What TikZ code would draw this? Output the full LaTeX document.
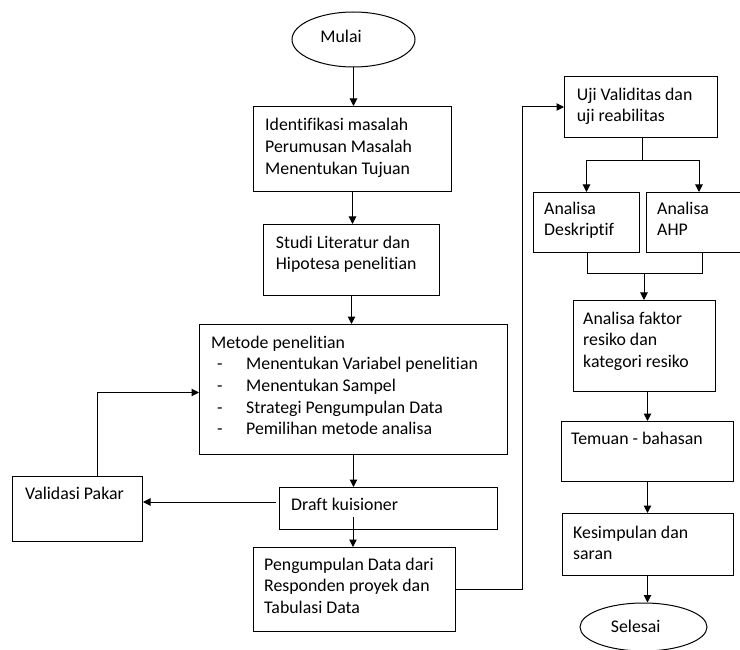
\documentclass[tikz,border=0pt]{standalone}
\usepackage{fontspec}
\setmainfont{Carlito}[RawFeature=-liga]
\usetikzlibrary{arrows.meta,shapes.geometric}
\begin{document}
\begin{tikzpicture}[x=1pt,y=-1pt,
  box/.style={draw, line width=1pt, inner sep=0pt, anchor=north west},
  oval/.style={draw, line width=1pt, ellipse, inner sep=0pt},
  txt/.style={inner sep=0pt, anchor=north west, align=left, font=\fontsize{17.8}{21.7}\selectfont},
  arr/.style={line width=1pt, -{Triangle[length=7.5pt,width=7.5pt]}},
  ln/.style={line width=1pt}]
\useasboundingbox (0,0) rectangle (740,650);
% shapes
\node[oval, minimum width=123pt, minimum height=55pt] (mulai) at (353.5,39.5) {};
\node[box, minimum width=198pt, minimum height=85pt] (b1) at (253,106) {};
\node[box, minimum width=176pt, minimum height=71pt] (b2) at (263,224) {};
\node[box, minimum width=308pt, minimum height=130pt] (metode) at (199,324) {};
\node[box, minimum width=130pt, minimum height=65pt] (valid) at (12,476) {};
\node[box, minimum width=218pt, minimum height=42pt] (draft) at (279,487) {};
\node[box, minimum width=202pt, minimum height=84pt] (peng) at (253,547) {};
\node[box, minimum width=153pt, minimum height=61pt] (uji) at (564,76) {};
\node[box, minimum width=106pt, minimum height=60pt] (desk) at (533,192) {};
\node[box, minimum width=100pt, minimum height=60pt] (ahp) at (646,192) {};
\node[box, minimum width=142pt, minimum height=91pt] (faktor) at (573,300) {};
\node[box, minimum width=172pt, minimum height=60pt] (temuan) at (561,421) {};
\node[box, minimum width=171pt, minimum height=62pt] (kesim) at (562,513) {};
\node[oval, minimum width=127pt, minimum height=48pt] (selesai) at (643.5,627) {};
% texts
\node[txt, anchor=base] (tmulai) at (341,42.7) {Mulai};
\node[txt] (tb1) at (265,115.5) {\strut Identifikasi masalah\\Perumusan Masalah\\Menentukan Tujuan};
\node[txt] (tb2) at (275.7,232.8) {\strut Studi Literatur dan\\Hipotesa penelitian};
\node[txt] (tmetode) at (211,332.8) {\strut Metode penelitian\\
\hspace*{6pt}\makebox[29pt][l]{-}Menentukan Variabel penelitian\\
\hspace*{6pt}\makebox[29pt][l]{-}Menentukan Sampel\\
\hspace*{6pt}\makebox[29pt][l]{-}Strategi Pengumpulan Data\\
\hspace*{6pt}\makebox[29pt][l]{-}Pemilihan metode analisa};
\node[txt] (tvalid) at (25,484.1) {\strut Validasi Pakar};
\node[txt] (tdraft) at (291,494.8) {\strut Draft kuisioner};
\node[txt] (tpeng) at (264,554.8) {\strut Pengumpulan Data dari\\Responden proyek dan\\Tabulasi Data};
\node[txt] (tuji) at (576.7,84.8) {\strut Uji Validitas dan\\uji reabilitas};
\node[txt] (tdesk) at (544,198.8) {\strut Analisa\\Deskriptif};
\node[txt] (tahp) at (657,198.8) {\strut Analisa\\AHP};
\node[txt] (tfaktor) at (583,308.8) {\strut Analisa faktor\\resiko dan\\kategori resiko};
\node[txt] (ttemuan) at (571,428.8) {\strut Temuan - bahasan};
\node[txt] (tkesim) at (573,522.8) {\strut Kesimpulan dan\\saran};
\node[txt, anchor=base] (tselesai) at (635.7,632) {Selesai};
% connectors
\draw[arr] (mulai.south) -- (mulai.south |- b1.north);
\draw[arr] (b1.south) -- (b1.south |- b2.north);
\draw[arr] (b2.south) -- (b2.south |- metode.north);
\draw[arr] (metode.south) -- (metode.south |- draft.north);
\coordinate (d1) at (276,502);
\draw[arr] (d1) -- (d1 -| valid.east);
\draw[arr] ([xshift=20pt]valid.north) |- ([yshift=-3pt]metode.west);
\coordinate (d2) at (353,517);
\draw[arr] (d2) -- (d2 |- peng.north);
\draw[arr] (peng.east) -- ++(66,0) |- (uji.west);
\coordinate (s1) at (642,161);
\draw[ln] (s1 |- uji.south) -- (s1);
\draw[arr] (s1) -| (desk.north);
\draw[arr] (s1) -| (699,0 |- ahp.north);
\coordinate (m1) at (644,274);
\draw[ln] (587,0 |- desk.south) |- (702,274) -- (702,0 |- ahp.south);
\draw[arr] (m1) -- (m1 |- faktor.north);
\draw[arr] (temuan.north |- faktor.south) -- (temuan.north);
\draw[arr] (temuan.south) -- (kesim.north -| temuan.south);
\draw[arr] (temuan.south |- kesim.south) -- (temuan.south |- selesai.north);
\end{tikzpicture}
\end{document}
